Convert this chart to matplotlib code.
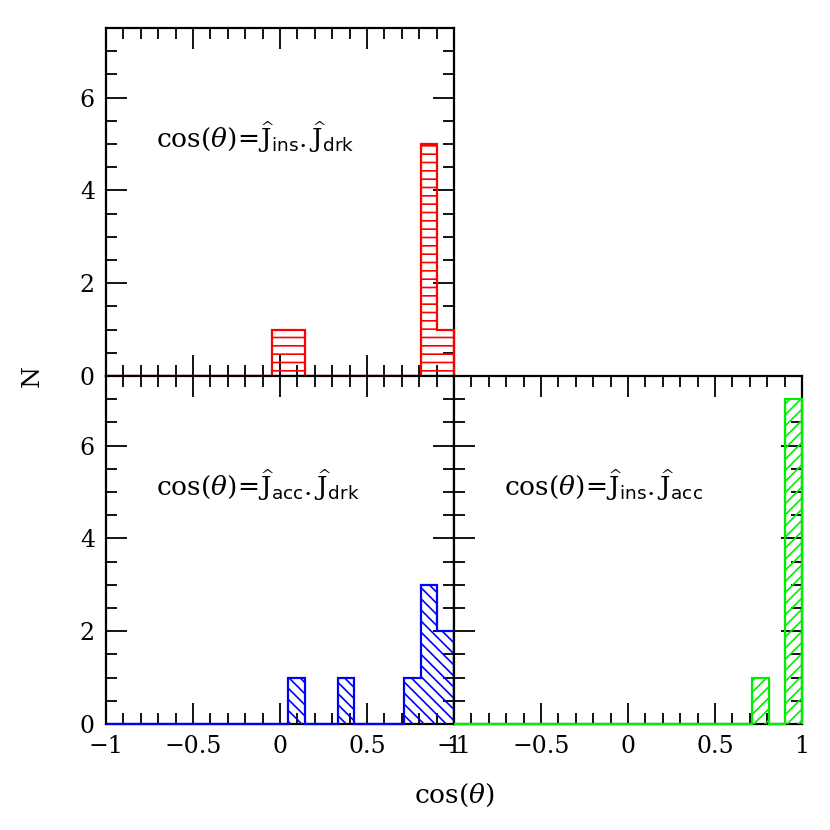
import numpy as np
import matplotlib.pyplot as plt
from matplotlib.ticker import MultipleLocator

plt.rcParams['font.family'] = ['DejaVu Serif']
plt.rcParams['mathtext.fontset'] = 'dejavuserif'
plt.rcParams['hatch.linewidth'] = 1.2

# bin edges and counts
red_edges = [-1, -0.046, 0.049, 0.144, 0.239, 0.334, 0.429, 0.524, 0.619, 0.714, 0.810, 0.905, 1.0]
red_counts = [0, 1, 1, 0, 0, 0, 0, 0, 0, 0, 5, 1]

blue_edges = [-1, 0.046, 0.141, 0.237, 0.332, 0.428, 0.523, 0.619, 0.714, 0.810, 0.905, 1.0]
blue_counts = [0, 1, 0, 0, 1, 0, 0, 0, 1, 3, 2]

green_edges = [-1, 0.714, 0.810, 0.905, 1.0]
green_counts = [0, 1, 0, 7]

labels = [r'$\cos(\theta)\!=\!\widehat{\mathrm{J}}_{\mathsf{ins}}.\widehat{\mathrm{J}}_{\mathsf{drk}}$',
          r'$\cos(\theta)\!=\!\widehat{\mathrm{J}}_{\mathsf{acc}}.\widehat{\mathrm{J}}_{\mathsf{drk}}$',
          r'$\cos(\theta)\!=\!\widehat{\mathrm{J}}_{\mathsf{ins}}.\widehat{\mathrm{J}}_{\mathsf{acc}}$']

fig = plt.figure(figsize=(8.3, 8.3), dpi=100)
L, W = 106 / 830, 348 / 830
ax1 = fig.add_axes([L, 454 / 830, W, W])
ax2 = fig.add_axes([L, 106 / 830, W, W])
ax3 = fig.add_axes([L + W, 106 / 830, W, W])

panels = [(ax1, red_edges, red_counts, 'red', '--', labels[0]),
          (ax2, blue_edges, blue_counts, 'blue', '\\\\\\', labels[1]),
          (ax3, green_edges, green_counts, '#00ee00', '///', labels[2])]

for ax, edges, counts, col, hatch, lab in panels:
    ax.stairs(counts, edges, fill=True, facecolor='none', edgecolor=col,
              hatch=hatch, linewidth=1.6, baseline=0, zorder=3, clip_on=False)
    ax.set_xlim(-1, 1)
    ax.set_ylim(0, 7.5)
    ax.xaxis.set_major_locator(MultipleLocator(0.5))
    ax.xaxis.set_minor_locator(MultipleLocator(0.1))
    ax.yaxis.set_major_locator(MultipleLocator(2))
    ax.yaxis.set_minor_locator(MultipleLocator(0.5))
    ax.tick_params(which='both', direction='in', top=True, right=True,
                   labelsize=17, width=1.3)
    ax.tick_params(which='major', length=15, pad=8)
    ax.tick_params(which='minor', length=8)
    for s in ax.spines.values():
        s.set_linewidth(1.6)
    ax.text(-0.71, 5.15, lab, fontsize=19, va='center', ha='left')
    ax.xaxis.set_major_formatter(plt.FuncFormatter(
        lambda v, p: ('%g' % v).replace('-', '\u2212')))

ax1.tick_params(labelbottom=False)
ax3.tick_params(labelleft=False)

fig.text(454 / 830, 1 - 795 / 830, r'$\cos(\theta)$', fontsize=19, ha='center', va='center')
fig.text(32 / 830, 1 - 376 / 830, 'N', fontsize=18, rotation=90, ha='center', va='center')

fig.savefig('out.png', dpi=100)
